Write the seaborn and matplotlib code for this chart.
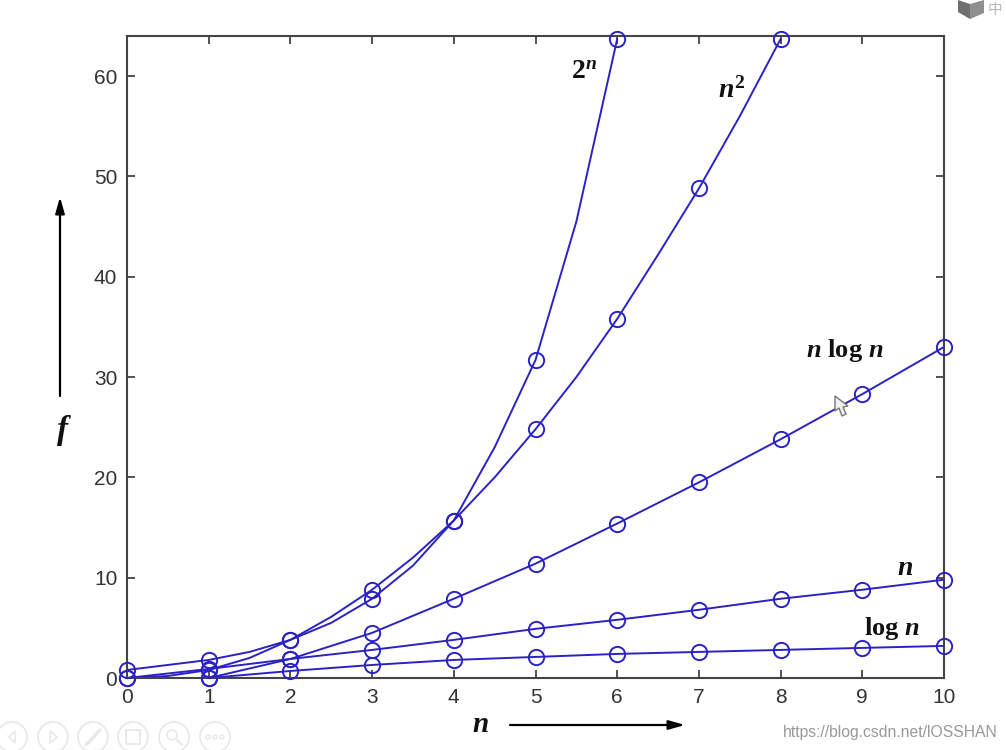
import matplotlib
matplotlib.use("Agg")
import matplotlib.pyplot as plt
from matplotlib.patches import Circle, Polygon, FancyArrowPatch
import seaborn as sns
import pandas as pd

# marker readings
n_log = [1, 2, 3, 4, 5, 6, 7, 8, 9, 10]
log_n = [0.0, 0.7, 1.3, 1.8, 2.1, 2.4, 2.6, 2.8, 3.0, 3.2]
n_lin = [0, 1, 2, 3, 4, 5, 6, 7, 8, 9, 10]
n_val = [0.0, 0.9, 1.9, 2.8, 3.8, 4.9, 5.8, 6.8, 7.9, 8.8, 9.8]
n_nlog = [1, 2, 3, 4, 5, 6, 7, 8, 9, 10]
nlogn = [0.0, 1.9, 4.5, 7.9, 11.4, 15.4, 19.5, 23.8, 28.3, 33.0]
n_sq = [0, 1, 2, 3, 4, 5, 6, 7, 8]
sq = [0.0, 0.8, 3.8, 8.8, 15.7, 24.8, 35.8, 48.8, 63.7]
n_exp = [0, 1, 2, 3, 4, 5, 6]
exp2 = [0.8, 1.8, 3.8, 7.9, 15.7, 31.7, 63.7]
# curve readings, including the bends seen between markers
sq_curve_x = [0, 0.5, 1, 1.5, 2, 2.5, 3, 3.5, 4, 4.5, 5, 5.5, 6, 6.5, 7, 7.5, 8]
sq_curve_y = [0.0, 0.2, 0.8, 2.0, 3.8, 6.1, 8.8, 12.0, 15.7, 20.0, 24.8, 30.0, 35.8, 42.2, 48.8, 56.0, 63.7]
exp_curve_x = [0, 0.5, 1, 1.5, 2, 2.5, 3, 3.5, 4, 4.5, 5, 5.5, 6]
exp_curve_y = [0.8, 1.3, 1.8, 2.6, 3.8, 5.5, 7.9, 11.2, 15.7, 23.0, 31.7, 45.5, 63.7]
x_ticks = [0, 1, 2, 3, 4, 5, 6, 7, 8, 9, 10]
y_ticks = [0, 10, 20, 30, 40, 50, 60]

sns.set_theme(style="ticks")
plt.rcParams['font.family'] = ['Liberation Sans', 'DejaVu Sans']
plt.rcParams['mathtext.fontset'] = 'custom'
plt.rcParams['mathtext.rm'] = 'Liberation Serif:bold'
plt.rcParams['mathtext.it'] = 'Liberation Serif:italic:bold'
plt.rcParams['mathtext.bf'] = 'Liberation Serif:bold'
fig = plt.figure(figsize=(10.06, 7.5), dpi=100)
ax = fig.add_axes([127/1006, 1-678/750, (944-127)/1006, (678-36)/750])
c = "#2b22c4"
curves = [(n_log, log_n), (n_lin, n_val), (n_nlog, nlogn), (sq_curve_x, sq_curve_y), (exp_curve_x, exp_curve_y)]
marks = [(n_log, log_n), (n_lin, n_val), (n_nlog, nlogn), (n_sq, sq), (n_exp, exp2)]
for xs, ys in curves:
    sns.lineplot(data=pd.DataFrame({"x": xs, "y": ys}), x="x", y="y", ax=ax, color=c, lw=1.4,
                 errorbar=None, clip_on=False)
for xs, ys in marks:
    sns.lineplot(data=pd.DataFrame({"x": xs, "y": ys}), x="x", y="y", ax=ax, lw=0, marker="o", ms=11,
                 mfc="none", mec=c, mew=1.4, clip_on=False, errorbar=None, zorder=5)
ax.set_xlim(0, 10)
ax.set_ylim(0, 64)
ax.set_xlabel("")
ax.set_ylabel("")
ax.set_xticks(x_ticks)
ax.set_yticks(y_ticks)
ax.tick_params(direction="in", top=True, right=True, length=6, width=1.2, labelsize=15,
               color="#333333", labelcolor="#333333", pad=7)
for s in ax.spines.values():
    s.set_linewidth(1.5)
    s.set_color("#444444")

def lab(x, y, t, size=18):
    fig.text(x/1006, 1-y/750, t, fontsize=size, ha="center", va="center", color="#111111")
lab(584, 72, r"$\mathrm{2}^{n}$", 20)
lab(732, 90, r"$n^{\mathrm{2}}$", 20)
lab(845, 351, r"$n\ \mathrm{log}\ n$", 19)
lab(905, 568, r"$n$", 20)
lab(892, 628, r"$\mathrm{log}\ n$", 19)
lab(480, 724, r"$n$", 21)
lab(64, 430, r"$f$", 24)
fig.add_artist(FancyArrowPatch((510/1006, 1-725/750), (685/1006, 1-725/750), transform=fig.transFigure,
    arrowstyle="-|>,head_length=0.6,head_width=0.17", mutation_scale=16, color="black", lw=1.6, shrinkA=0, shrinkB=0))
fig.add_artist(FancyArrowPatch((60/1006, 1-396/750), (60/1006, 1-197/750), transform=fig.transFigure,
    arrowstyle="-|>,head_length=0.6,head_width=0.17", mutation_scale=16, color="black", lw=1.6, shrinkA=0, shrinkB=0))
fig.text(998/1006, 1-732/750, "https://blog.csdn.net/lOSSHAN", fontsize=11.3, color="#999999", ha="right", va="center")

# screen-recording overlay: toolbar buttons, corner logo, mouse pointer
W, H = fig.get_size_inches() * fig.dpi
overlay = fig.add_axes([0, 0, 1, 1], facecolor="none")
overlay.set_xlim(0, W)
overlay.set_ylim(H, 0)
overlay.axis("off")
icon = "#e8e8e8"
for cx in [12, 53, 93, 133, 174, 215]:
    overlay.add_patch(Circle((cx, 737), 15, fc="none", ec=icon, lw=1.2))
overlay.add_patch(Polygon([(15, 731), (9, 737), (15, 743)], fc="none", ec=icon, lw=1.2))
overlay.add_patch(Polygon([(50, 731), (57, 737), (50, 743)], fc="none", ec=icon, lw=1.2))
overlay.plot([86, 100], [745, 730], color=icon, lw=2.5)
overlay.add_patch(plt.Rectangle((126, 730), 14, 14, fc="none", ec=icon, lw=1.2))
overlay.add_patch(Circle((172, 735), 5, fc="none", ec=icon, lw=1.2))
overlay.plot([176, 182], [739, 745], color=icon, lw=1.5)
for cx in [208, 215, 222]:
    overlay.add_patch(Circle((cx, 737), 2, fc="none", ec=icon, lw=1))
overlay.add_patch(Polygon([(958, 0), (970, 4), (970, 19), (958, 12)], fc="#6f6f6f", ec="none"))
overlay.add_patch(Polygon([(970, 4), (984, 0), (984, 13), (970, 19)], fc="#8f8f8f", ec="none"))
overlay.text(995, 10, "中", fontsize=10.5, color="#b8b8b8", ha="center", va="center", family="Noto Sans CJK SC")
overlay.add_patch(Polygon([(835, 396), (835, 411), (839, 408), (842, 416), (846, 414), (843, 407), (848, 406)],
                          fc="#f0f0f0", ec="#777777", lw=1))
fig.savefig("out.png", dpi=100)
